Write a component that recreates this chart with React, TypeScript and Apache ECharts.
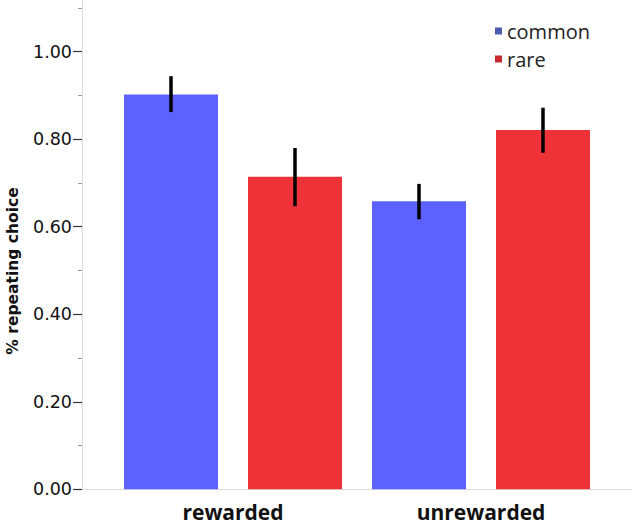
import React, { useEffect, useRef } from "react";
import * as echarts from "echarts";

const categories = ["rewarded", "unrewarded"];
const seriesNames = ["common", "rare"];
const commonMean = [0.902, 0.658];
const commonLow = [0.862, 0.617];
const commonHigh = [0.944, 0.698];
const rareMean = [0.714, 0.821];
const rareLow = [0.647, 0.769];
const rareHigh = [0.78, 0.872];
const yTickValues = [0, 0.2, 0.4, 0.6, 0.8, 1.0];

const BLUE = "#5b62fe";
const RED = "#ee3238";

export default function App() {
  const ref = useRef<HTMLDivElement>(null);

  useEffect(() => {
    document.body.style.margin = "0";
    const chart = echarts.init(ref.current!, null, { renderer: "svg" });

    const gridTop = 489.3 - 1.2 * 437.6;
    const gridBottom = 527 - 489.3;
    const barWidth = 94;
    const barGapPx = 30;
    const centerOffset = (barWidth + barGapPx) / 2;

    const makeErr = (name: string, lo: number[], hi: number[], offset: number) => ({
      type: "custom",
      name: name + "-err",
      xAxisIndex: 1,
      yAxisIndex: 1,
      z: 10,
      silent: true,
      data: categories.map((_, i) => [i, lo[i], hi[i]]),
      renderItem: (params: any, api: any) => {
        const p0 = api.coord([api.value(0), api.value(1)]);
        const p1 = api.coord([api.value(0), api.value(2)]);
        return {
          type: "line",
          shape: { x1: p0[0] + offset, y1: p0[1], x2: p1[0] + offset, y2: p1[1] },
          style: { stroke: "#000", lineWidth: 3.5 },
        };
      },
    });

    const yAxisCommon = {
      type: "value",
      min: 0,
      max: 1.2,
      interval: 0.2,
      splitLine: { show: false },
    };

    chart.setOption({
      animation: false,
      backgroundColor: "#ffffff",
      grid: [
        { left: 82, right: 6, top: gridTop, bottom: gridBottom, containLabel: false, outerBoundsMode: "none" },
        { left: 109, width: 496, top: gridTop, bottom: gridBottom, containLabel: false, outerBoundsMode: "none" },
      ],
      xAxis: [
        {
          type: "category",
          gridIndex: 0,
          data: categories,
          axisLine: { show: true, lineStyle: { color: "#dcdcdc", width: 1 } },
          axisTick: { show: false },
          axisLabel: { show: false },
          splitLine: { show: false },
        },
        {
          type: "category",
          gridIndex: 1,
          data: categories,
          axisLine: { show: false },
          axisTick: { show: false },
          splitLine: { show: false },
          axisLabel: {
            show: true,
            margin: 12,
            fontFamily: "Open Sans",
            fontWeight: "bold",
            fontSize: 21,
            color: "#111",
          },
        },
      ],
      yAxis: [
        {
          ...yAxisCommon,
          gridIndex: 0,
          axisLine: { show: true, lineStyle: { color: "#dcdcdc", width: 1 } },
          axisTick: { show: true, length: 9, lineStyle: { color: "#333", width: 1.2 } },
          minorTick: { show: true, splitNumber: 2, length: 4, lineStyle: { color: "#999", width: 1 } },
          minorSplitLine: { show: false },
          axisLabel: {
            show: true,
            margin: 10,
            fontFamily: "DejaVu Sans",
            fontSize: 17.5,
            color: "#111",
            formatter: (v: number) => (yTickValues.some((t) => Math.abs(t - v) < 1e-6) ? v.toFixed(2) : ""),
          },
        },
        {
          ...yAxisCommon,
          gridIndex: 1,
          show: false,
        },
      ],
      legend: {
        orient: "vertical",
        left: 490,
        top: 16,
        icon: "rect",
        itemWidth: 7,
        itemHeight: 7,
        itemGap: 8,
        selectedMode: false,
        textStyle: { fontFamily: "Open Sans", fontSize: 20, color: "#222" },
        data: [
          { name: seriesNames[0], itemStyle: { color: "#4a5cb0" } },
          { name: seriesNames[1], itemStyle: { color: "#c9282d" } },
        ],
      },
      graphic: [
        {
          type: "text",
          x: 13,
          y: 271,
          rotation: Math.PI / 2,
          style: {
            text: "% repeating choice",
            fontFamily: "DejaVu Sans",
            fontWeight: "bold",
            fontSize: 15.5,
            fill: "#111",
            align: "center",
            verticalAlign: "middle",
            textAlign: "center",
            textVerticalAlign: "middle",
          },
        },
      ],
      series: [
        {
          type: "bar",
          name: seriesNames[0],
          xAxisIndex: 1,
          yAxisIndex: 1,
          data: commonMean,
          barWidth: barWidth,
          barGap: (barGapPx / barWidth) * 100 + "%",
          itemStyle: { color: BLUE },
        },
        {
          type: "bar",
          name: seriesNames[1],
          xAxisIndex: 1,
          yAxisIndex: 1,
          data: rareMean,
          barWidth: barWidth,
          barGap: (barGapPx / barWidth) * 100 + "%",
          itemStyle: { color: RED },
        },
        makeErr(seriesNames[0], commonLow, commonHigh, -centerOffset),
        makeErr(seriesNames[1], rareLow, rareHigh, centerOffset),
      ],
    });

    return () => chart.dispose();
  }, []);

  return <div ref={ref} style={{ width: 638, height: 527 }} />;
}
